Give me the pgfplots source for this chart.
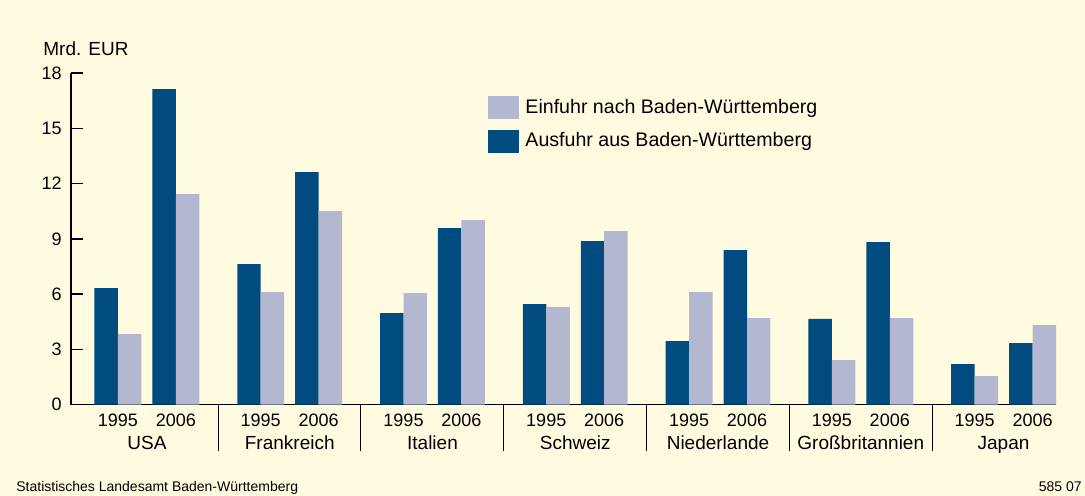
\documentclass[border=0pt]{standalone}
\usepackage{pgfplots}
\pgfplotsset{compat=1.18}
\usepackage{pgfplotstable}
\usepackage{fontspec}
\setmainfont{Liberation Sans}
\definecolor{bg}{RGB}{255,251,224}
\definecolor{dark}{RGB}{0,76,128}
\definecolor{light}{RGB}{179,183,207}
% px -> picture coordinates (axis origin at px (71,404.6), 1px = 0.5pt)
\newcommand\px[2]{({(#1-71)*0.5pt},{(404.6-#2)*0.5pt})}

\pgfplotstableread{
x       aus    ein
118.0   6.32   3.82
176.0   17.12  11.43
260.8   7.63   6.11
318.8   12.62  10.50
403.6   4.97   6.05
461.6   9.58   10.01
546.4   5.46   5.30
604.4   8.88   9.42
689.2   3.45   6.11
747.2   8.39   4.70
832.0   4.65   2.42
890.0   8.82   4.70
974.8   2.20   1.55
1032.8  3.34   4.32
}\datatable

\begin{document}
\begin{tikzpicture}
\fill[bg] \px{0}{0} rectangle \px{1085}{495};
\begin{axis}[
  at={(0,0)}, anchor=south west,
  scale only axis,
  width=492.5pt, height=165.8pt,
  xmin=71, xmax=1056.3,
  ymin=0, ymax=18,
  enlargelimits=false,
  clip=false,
  axis lines*=left,
  axis line style={line width=0.7pt, black},
  ybar,
  bar width=23.5,
  ytick={0,3,6,9,12,15,18},
  ytick align=inside,
  ytick style={line width=0.7pt, black},
  major tick length=6pt,
  xtick={118,176,260.8,318.8,403.6,461.6,546.4,604.4,689.2,747.2,832,890,974.8,1032.8},
  xticklabels={1995,2006,1995,2006,1995,2006,1995,2006,1995,2006,1995,2006,1995,2006},
  xtick style={draw=none},
  /pgf/number format/assume math mode=true,
  yticklabel style={font=\fontsize{9}{10}\selectfont, inner sep=0pt, xshift=-4.5pt},
  xticklabel style={font=\fontsize{9}{10}\selectfont, inner sep=0pt, yshift=1.75pt},
  reverse legend,
  legend image code/.code={\fill[#1] (0pt,-5.75pt) rectangle (15.5pt,5.75pt);},
  legend style={draw=none, fill=none, at={(rel axis cs:0.4234,0.94)}, anchor=north west,
    inner sep=0pt, row sep=2pt, font=\fontsize{9.8}{11}\selectfont,
    nodes={inner sep=3pt}},
  legend cell align=left,
]
\addplot[fill=dark, draw=none, bar shift=-11.75] table[x=x, y=aus] {\datatable};
\addlegendentry{Ausfuhr aus Baden-Württemberg}
\addplot[fill=light, draw=none, bar shift=11.75] table[x=x, y=ein] {\datatable};
\addlegendentry{Einfuhr nach Baden-Württemberg}

\pgfplotsinvokeforeach{218.5,360.5,503.5,646.5,789.5,932.5}{
  \draw[line width=0.7pt] (axis cs:#1,0) -- ++(0pt,-23pt);
}
\node[anchor=base, inner sep=0pt, font=\fontsize{9.5}{11}\selectfont] at (axis cs:147,0) [yshift=-22.5pt] {USA};
\node[anchor=base, inner sep=0pt, font=\fontsize{9.5}{11}\selectfont] at (axis cs:289.8,0) [yshift=-22.5pt] {Frankreich};
\node[anchor=base, inner sep=0pt, font=\fontsize{9.5}{11}\selectfont] at (axis cs:432.6,0) [yshift=-22.5pt] {Italien};
\node[anchor=base, inner sep=0pt, font=\fontsize{9.5}{11}\selectfont] at (axis cs:575.4,0) [yshift=-22.5pt] {Schweiz};
\node[anchor=base, inner sep=0pt, font=\fontsize{9.5}{11}\selectfont] at (axis cs:718.2,0) [yshift=-22.5pt] {Niederlande};
\node[anchor=base, inner sep=0pt, font=\fontsize{9.5}{11}\selectfont] at (axis cs:861,0) [yshift=-22.5pt] {Großbritannien};
\node[anchor=base, inner sep=0pt, font=\fontsize{9.5}{11}\selectfont] at (axis cs:1003.8,0) [yshift=-22.5pt] {Japan};
\end{axis}
\node[anchor=base west, inner sep=0pt, font=\fontsize{9.5}{11}\selectfont] at \px{43}{55} {Mrd. EUR};
\node[anchor=base west, inner sep=0pt, font=\fontsize{7}{8}\selectfont] at \px{16}{491.5} {Statistisches Landesamt Baden-Württemberg};
\node[anchor=base east, inner sep=0pt, font=\fontsize{7}{8}\selectfont] at \px{1082}{491.5} {585 07};
\pgfresetboundingbox
\useasboundingbox \px{0}{0} rectangle \px{1085}{495};
\end{tikzpicture}
\end{document}
